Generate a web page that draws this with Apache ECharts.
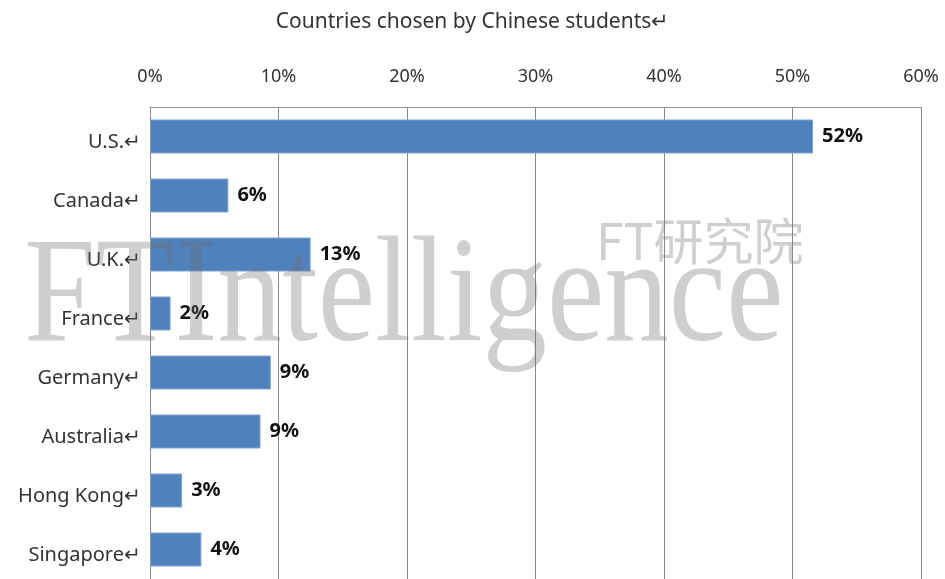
<!DOCTYPE html>
<html>
<head>
<meta charset="utf-8">
<script src="https://cdn.jsdelivr.net/npm/echarts@6/dist/echarts.min.js"></script>
<style>
  html, body { margin: 0; padding: 0; background: #fff; }
  #chart { width: 945px; height: 579px; }
</style>
</head>
<body>
<div id="chart"></div>
<script>
// data (percent)
const countries = ["U.S.", "Canada", "U.K.", "France", "Germany", "Australia", "Hong Kong", "Singapore"];
const shares = [51.6, 6.1, 12.5, 1.6, 9.4, 8.6, 2.5, 4.0];
const tickValues = [0, 10, 20, 30, 40, 50, 60];

const mark = "\u21B5"; // the little return mark after each label

const chart = echarts.init(document.getElementById("chart"));

const option = {
  animation: false,
  title: {
    text: "Countries chosen by Chinese students" + mark,
    left: "center",
    top: 7,
    textStyle: {
      fontFamily: "Noto Sans",
      fontSize: 21,
      fontWeight: "normal",
      color: "#333"
    }
  },
  grid: {
    left: 150,
    right: 24,
    top: 107,
    bottom: 0
  },
  xAxis: {
    type: "value",
    position: "top",
    min: tickValues[0],
    max: tickValues[tickValues.length - 1],
    interval: 10,
    axisLine: { show: true, lineStyle: { color: "#999", width: 1 } },
    axisTick: { show: false },
    axisLabel: {
      margin: 21,
      formatter: v => v + "%",
      fontFamily: "Noto Sans",
      fontSize: 18,
      color: "#333"
    },
    splitLine: { show: true, lineStyle: { color: "#888", width: 1 } }
  },
  yAxis: {
    type: "category",
    inverse: true,
    data: countries,
    axisLine: { show: true, lineStyle: { color: "#888", width: 1 } },
    axisTick: { show: false },
    axisLabel: {
      margin: 9,
      verticalAlign: "top",
      lineHeight: 12,
      formatter: v => v + mark,
      fontFamily: "Noto Sans",
      fontSize: 20,
      color: "#333"
    }
  },
  series: [
    {
      type: "bar",
      data: shares,
      barWidth: 34,
      itemStyle: {
        color: "#4F81BD",
        borderColor: "#7FA3D0",
        borderWidth: 1
      },
      label: {
        show: true,
        position: "right",
        distance: 9,
        formatter: p => Math.round(p.value) + "%",
        fontFamily: "Noto Sans",
        fontWeight: "bold",
        fontSize: 20,
        color: "#111"
      }
    }
  ],
  graphic: [
    {
      type: "text",
      left: 24,
      top: 226,
      zlevel: 1,
      scaleX: 0.86,
      style: {
        text: "FTIntelligence",
        font: "150px 'Liberation Serif'",
        fill: "rgba(110,110,110,0.33)"
      }
    },
    {
      type: "text",
      left: 596,
      top: 216,
      zlevel: 1,
      style: {
        text: "FT研究院",
        font: "50px 'Noto Sans CJK SC'",
        fill: "rgba(130,130,130,0.38)"
      }
    }
  ]
};

chart.setOption(option);
</script>
</body>
</html>
